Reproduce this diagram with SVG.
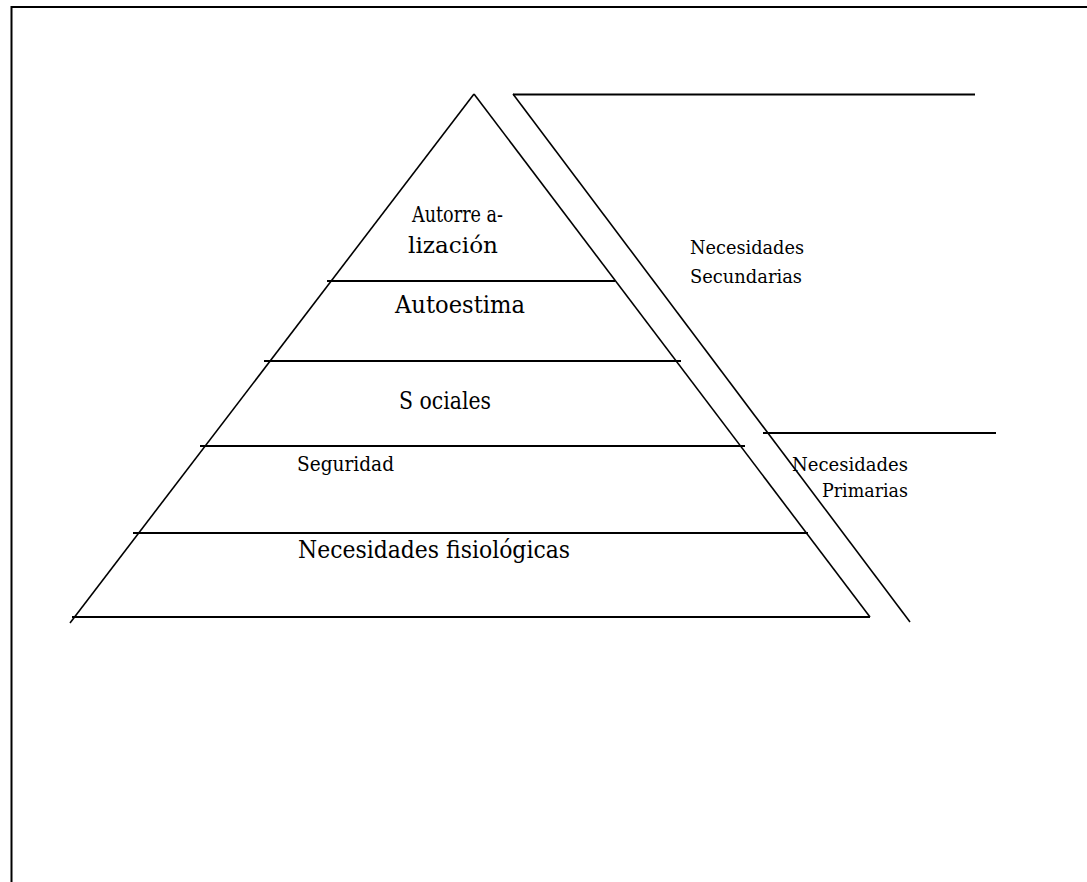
<svg xmlns="http://www.w3.org/2000/svg" width="1087" height="882" viewBox="0 0 1087 882">
<style>
.ln{stroke:#000;fill:none;stroke-width:2}
.dg{stroke:#000;fill:none;stroke-width:1.6}
.t{font-family:'DejaVu Serif','Liberation Serif',serif;fill:#000}
</style>
<rect width="1087" height="882" fill="#fff"/>
<g id="frame">
<line class="ln" x1="11" y1="7" x2="1087" y2="7" stroke-width="2.5"/>
<line class="ln" x1="11.5" y1="6" x2="11.5" y2="882" stroke-width="2.5"/>
</g>
<g id="connectors">
<line class="dg" x1="474" y1="94" x2="70" y2="623"/>
<line class="dg" x1="474" y1="94" x2="870" y2="617"/>
<line class="dg" x1="513" y1="94" x2="910" y2="622"/>
<line class="ln" x1="513" y1="94.5" x2="975" y2="94.5"/>
<line class="ln" x1="763" y1="433" x2="996" y2="433"/>
</g>
<g id="level-autorrealizacion">
<text class="t" x="412" y="222" font-size="22" textLength="91" lengthAdjust="spacingAndGlyphs">Autorre a-</text>
<text class="t" x="408" y="253" font-size="22" textLength="90" lengthAdjust="spacingAndGlyphs">lización</text>
</g>
<g id="level-autoestima">
<line class="ln" x1="327" y1="281" x2="615" y2="281"/>
<text class="t" x="395" y="313" font-size="25" textLength="130" lengthAdjust="spacingAndGlyphs">Autoestima</text>
</g>
<g id="level-sociales">
<line class="ln" x1="264" y1="361" x2="681" y2="361"/>
<text class="t" x="399" y="409" font-size="25" textLength="92" lengthAdjust="spacingAndGlyphs">S ociales</text>
</g>
<g id="level-seguridad">
<line class="ln" x1="200" y1="446" x2="745" y2="446"/>
<text class="t" x="297" y="471" font-size="21" textLength="97" lengthAdjust="spacingAndGlyphs">Seguridad</text>
</g>
<g id="level-fisiologicas">
<line class="ln" x1="133" y1="533" x2="808" y2="533"/>
<text class="t" x="298" y="558" font-size="24" textLength="272" lengthAdjust="spacingAndGlyphs">Necesidades fisiológicas</text>
</g>
<g id="base">
<line class="ln" x1="72" y1="617" x2="870" y2="617"/>
</g>
<g id="label-secundarias">
<text class="t" x="690" y="254" font-size="19" textLength="114" lengthAdjust="spacingAndGlyphs">Necesidades</text>
<text class="t" x="690" y="283" font-size="19" textLength="112" lengthAdjust="spacingAndGlyphs">Secundarias</text>
</g>
<g id="label-primarias">
<text class="t" x="792" y="471" font-size="19" textLength="116" lengthAdjust="spacingAndGlyphs">Necesidades</text>
<text class="t" x="822" y="497" font-size="19" textLength="86" lengthAdjust="spacingAndGlyphs">Primarias</text>
</g>
</svg>
